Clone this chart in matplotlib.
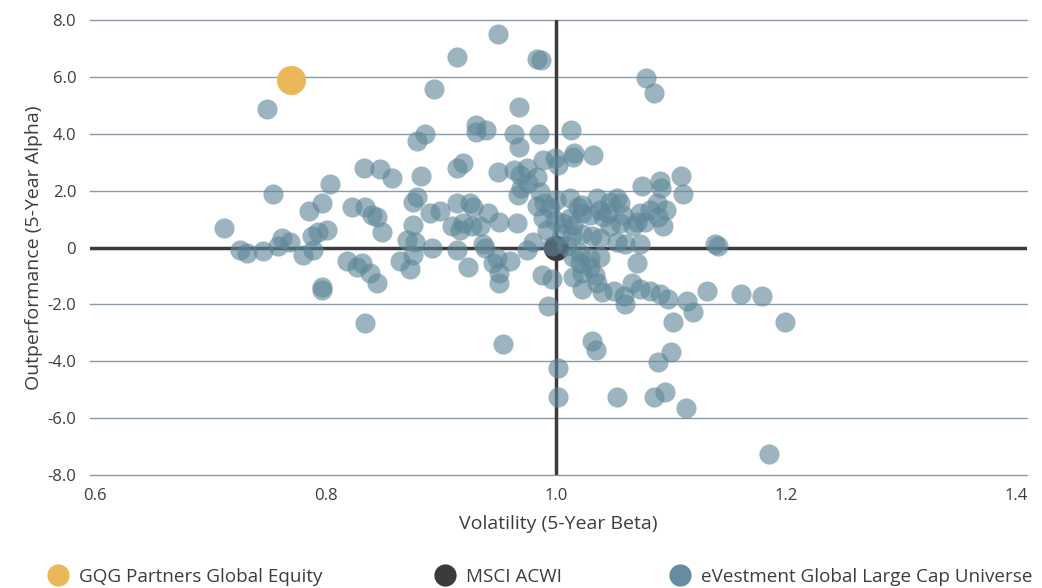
import matplotlib
matplotlib.use("Agg")
import matplotlib.pyplot as plt
from matplotlib.lines import Line2D

plt.rcParams['font.family'] = ['Open Sans', 'DejaVu Sans']

# Universe: (beta, alpha)
universe_beta = [
    0.950, 0.914, 0.984, 0.987, 0.749, 0.894, 0.968, 0.931, 0.931, 0.939,
    0.964, 0.968, 0.985, 0.879, 0.886, 1.078, 1.085, 1.013, 0.989, 0.999,
    1.002, 1.015, 1.016, 1.032, 0.914, 0.919, 0.833, 0.847, 0.858, 0.804,
    0.883, 0.950, 0.964, 0.975, 0.969, 0.984, 0.976, 0.970, 0.967,
    0.754, 0.712, 0.786, 0.797, 0.823, 0.834, 0.840, 0.845, 0.849, 0.793,
    0.801, 0.788, 0.876, 0.879, 0.891, 0.899, 0.876, 0.914, 0.925, 0.928,
    0.941, 0.951, 0.966, 0.910, 0.917, 0.927, 0.919, 0.934, 0.986, 0.984,
    0.990, 0.995, 1.000, 1.012, 1.019, 1.023, 1.036, 1.047, 1.053, 1.056,
    1.023, 1.045, 1.056, 0.992, 0.989, 0.999, 1.006, 1.015, 1.012, 1.030,
    1.041, 1.005, 1.014, 1.023, 1.031, 1.038, 1.047, 0.980, 0.975, 0.997,
    1.010, 1.021, 1.030, 1.038, 1.053, 0.871, 0.878, 0.892, 0.914, 0.937,
    0.938, 0.726, 0.732, 0.746, 0.759, 0.769, 0.762, 0.780, 0.789, 1.038,
    1.058, 1.070, 1.077, 1.073, 1.082, 1.088, 1.089, 1.096, 1.093, 1.067,
    1.075, 1.090, 1.091, 1.109, 1.110, 1.060, 1.073, 1.138, 1.141,
    0.988, 0.997, 0.949, 0.960, 0.865, 0.873, 0.876, 0.924, 0.945, 0.951,
    0.951, 0.819, 0.827, 0.832, 0.839, 0.845, 0.797, 0.797, 0.834, 0.993,
    1.015, 1.021, 1.030, 1.023, 1.034, 1.015, 1.023, 1.036, 1.040, 1.050,
    1.059, 1.060, 1.066, 1.070, 1.073, 1.082, 1.090, 1.097, 1.114, 1.119,
    1.102, 1.131, 1.161, 1.179, 1.199, 0.954, 1.031, 1.035, 1.089, 1.100,
    1.002, 1.002, 1.053, 1.085, 1.095, 1.113, 1.185,
]
universe_alpha = [
    7.51, 6.70, 6.63, 6.60, 4.88, 5.58, 4.95, 4.32, 4.07, 4.14,
    4.00, 3.54, 4.00, 3.75, 4.00, 5.97, 5.44, 4.14, 3.09, 3.16,
    2.91, 3.19, 3.33, 3.26, 2.81, 2.98, 2.81, 2.77, 2.46, 2.25,
    2.53, 2.67, 2.74, 2.81, 2.56, 2.49, 2.28, 2.11, 1.86,
    1.89, 0.70, 1.30, 1.58, 1.44, 1.44, 1.16, 1.09, 0.56, 0.56,
    0.63, 0.39, 1.61, 1.79, 1.23, 1.30, 0.81, 1.58, 1.58, 1.44,
    1.23, 0.91, 0.88, 0.74, 0.63, 0.74, 0.88, 0.74, 1.97, 1.47,
    1.58, 1.40, 1.68, 1.75, 1.44, 1.51, 1.75, 1.61, 1.75, 1.58,
    1.23, 1.23, 0.88, 0.63, 1.05, 0.98, 0.88, 0.81, 1.05, 1.16,
    1.09, 0.46, 0.39, 0.46, 0.39, 0.35, 0.74, 0.18, -0.07, 0.04,
    0.04, -0.18, -0.35, -0.32, 0.18, 0.28, 0.18, 0.00, -0.07, 0.11,
    0.00, -0.07, -0.18, -0.11, 0.04, 0.21, 0.35, -0.25, -0.07, 1.33,
    1.16, 0.91, 0.91, 1.23, 1.33, 1.58, 1.09, 1.33, 0.74, 0.74,
    2.18, 2.35, 2.11, 2.53, 1.89, 0.11, 0.11, 0.14, 0.04,
    -0.95, -1.12, -0.35, -0.46, -0.49, -0.77, -0.25, -0.67, -0.53, -0.88,
    -1.26, -0.49, -0.67, -0.53, -0.88, -1.26, -1.37, -1.51, -2.67, -2.07,
    -0.32, -0.53, -0.67, -0.88, -0.95, -1.02, -1.47, -1.23, -1.58, -1.54,
    -1.72, -2.00, -1.23, -0.53, -1.47, -1.54, -1.65, -1.82, -1.89, -2.28,
    -2.63, -1.54, -1.65, -1.72, -2.60, -3.40, -3.30, -3.61, -4.04, -3.68,
    -4.25, -5.26, -5.26, -5.26, -5.09, -5.65, -7.26,
]

gqg_beta = [0.770]
gqg_alpha = [5.90]
msci_beta = [1.0]
msci_alpha = [0.0]

y_ticks = [-8, -6, -4, -2, 0, 2, 4, 6, 8]
y_ticklabels = ['-8.0', '-6.0', '-4.0', '-2.0', '0', '2.0', '4.0', '6.0', '8.0']
x_ticks = [0.6, 0.8, 1.0, 1.2, 1.4]
x_ticklabels = ['0.6', '0.8', '1.0', '1.2', '1.4']

series_labels = ['GQG Partners Global Equity', 'MSCI ACWI', 'eVestment Global Large Cap Universe']

C_GQG = '#ecb75a'
C_MSCI = '#3a3b3d'
C_UNI = '#5e8799'
C_UNI_LEG = '#658da0'
C_TEXT = '#3d3d3d'
C_GRID = '#8d9aa8'

fig = plt.figure(figsize=(10.42, 5.88), dpi=100)
ax = fig.add_axes([0.0864, 0.192, 0.8992, 0.774])

ax.set_xlim(0.5955, 1.409)
ax.set_ylim(-8, 8)

for t in y_ticks:
    if t == 0:
        continue
    ax.axhline(t, color=C_GRID, lw=1.0, zorder=1, clip_on=False)
ax.axhline(0, color=C_MSCI, lw=2.5, zorder=1)
ax.axvline(1.0, color=C_MSCI, lw=2.5, zorder=1)

ax.scatter(msci_beta, msci_alpha, s=330, color=C_MSCI, zorder=2, linewidths=0)
ax.scatter(universe_beta, universe_alpha, s=210, color=C_UNI, alpha=0.62,
           zorder=3, linewidths=0)
ax.scatter(gqg_beta, gqg_alpha, s=440, color=C_GQG, zorder=4, linewidths=0)

for s in ax.spines.values():
    s.set_visible(False)

ax.set_yticks(y_ticks)
ax.set_yticklabels(y_ticklabels)
ax.set_xticks(x_ticks)
ax.set_xticklabels(x_ticklabels)
ax.tick_params(axis='both', length=0, labelsize=12, labelcolor=C_TEXT)
ax.tick_params(axis='y', pad=10)
ax.tick_params(axis='x', pad=9)

ax.set_xlabel('Volatility (5-Year Beta)', fontsize=14, color=C_TEXT, labelpad=8)
ax.set_ylabel('Outperformance (5-Year Alpha)', fontsize=14, color=C_TEXT, labelpad=3)

leg_items = [(series_labels[0], C_GQG, 0.0466),
             (series_labels[1], C_MSCI, 0.418),
             (series_labels[2], C_UNI_LEG, 0.6436)]
for lab, col, xpos in leg_items:
    h = Line2D([0], [0], marker='o', linestyle='none', markersize=16,
               markerfacecolor=col, markeredgewidth=0)
    fig.legend(handles=[h], labels=[lab], loc='center left',
               bbox_to_anchor=(xpos, 0.019), frameon=False, fontsize=13.6,
               handletextpad=0.6, handlelength=1.0, borderpad=0,
               borderaxespad=0, labelcolor=C_TEXT)

fig.savefig('out.png', dpi=100)
